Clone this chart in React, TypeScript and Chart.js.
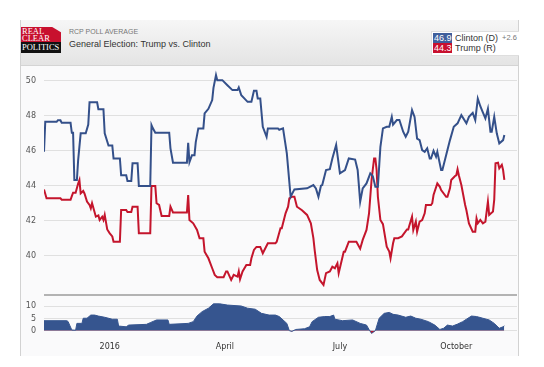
import React, { useEffect, useRef } from "react";
import { Chart, registerables } from "chart.js";
Chart.register(...registerables);

// x values are days since the first poll in the window (≈ 10 Nov 2015)
const tickDays = [52, 143, 234, 326];
const tickLabels = ["2016", "April", "July", "October"];
const mainTicks = [40, 42, 44, 46, 48, 50];
const spreadTicks = [0, 5, 10];

const clintonDays = [0,1,10,11,13,14,21,22,23,24,26,27,29,33,35,36,42,43,47,48,51,54,55,60,61,65,66,69,70,74,75,84,85,86,88,99,100,102,113,114,115,117,119,120,122,126,127,130,133,134,136,137,141,145,149,153,154,156,161,164,166,168,169,171,173,176,177,185,186,189,192,195,198,208,213,215,217,219,220,223,226,228,231,234,238,241,246,248,250,252,255,258,260,262,264,266,268,271,273,275,276,279,281,284,286,288,291,293,295,297,299,301,303,305,306,308,310,311,314,315,317,319,321,324,327,330,334,336,339,341,343,345,347,349,351,353,354,356,358,360,363,364];
const clintonValues = [45.95,47.66,47.66,47.75,47.75,47.6,47.6,47.03,47.03,44.33,44.33,45.47,47.0,47.0,47.5,48.77,48.77,48.38,48.38,47.0,46.3,46.3,45.56,45.56,44.6,44.6,44.27,44.27,45.28,45.28,43.98,43.98,47.47,47.3,47.03,47.03,46.14,45.32,45.32,46.46,45.35,45.75,45.75,46.5,47.28,47.28,48.14,48.4,48.9,49.6,50.33,50.04,50.04,49.75,49.47,49.47,49.62,49.18,48.8,48.8,49.43,49.43,48.99,48.99,47.37,46.8,47.28,47.28,47.2,47.28,45.85,43.37,43.79,43.85,44.04,43.85,43.37,44.0,44.04,44.9,44.95,45.56,46.33,44.71,44.9,45.56,45.5,44.9,43.09,43.85,44.13,44.71,44.55,43.94,43.94,46.23,47.28,47.37,47.37,47.94,47.5,47.76,47.76,47.09,46.8,47.09,48.33,47.94,46.7,46.61,46.04,45.94,46.14,45.56,45.56,46.0,45.66,45.94,44.9,44.9,45.47,46.04,46.61,47.37,47.57,48.04,47.57,47.94,48.17,47.76,48.99,48.55,48.2,47.85,48.4,47.09,47.09,47.94,47.0,46.42,46.61,46.9];

const trumpDays = [0,2,13,14,21,22,23,25,27,28,29,31,32,34,36,37,38,41,43,44,46,47,48,50,52,54,55,60,61,65,66,69,70,74,75,84,85,88,89,91,93,99,100,102,113,114,115,118,121,123,126,127,130,133,135,137,142,144,145,148,150,153,154,155,157,160,163,164,166,168,171,173,177,183,184,187,188,189,191,193,194,196,198,200,204,208,211,213,214,216,218,221,223,226,228,230,232,233,237,238,241,247,250,252,255,257,259,261,262,263,264,266,268,271,273,274,276,277,280,283,284,287,288,289,291,292,294,295,297,299,301,302,306,307,308,311,313,314,318,319,321,322,325,326,327,328,330,333,334,336,339,341,342,343,345,347,349,351,352,355,356,357,359,360,362,363,364];
const trumpValues = [43.79,43.28,43.28,43.2,43.2,43.41,43.6,43.6,44.13,44.33,43.56,43.7,43.56,43.09,42.9,42.71,43.0,42.23,42.3,42.04,42.23,42.04,42.33,41.5,41.28,41.1,40.8,40.8,42.61,42.61,42.5,42.5,42.8,42.8,41.28,41.28,43.98,43.98,43.0,42.9,42.27,42.27,42.8,42.47,42.47,43.47,42.04,41.85,41.47,40.99,40.99,40.23,39.85,39.28,38.9,38.77,38.77,39.1,39.1,38.61,38.9,38.8,39.1,38.65,39.1,39.47,39.47,39.85,40.33,40.5,40.5,40.14,40.71,40.71,40.8,41.57,41.57,41.85,42.42,42.8,43.28,43.37,43.37,42.8,42.6,42.33,41.85,41.0,40.33,39.18,38.61,38.33,39.0,39.1,39.37,39.28,39.56,39.0,40.23,40.23,40.8,40.8,40.4,40.9,41.47,42.42,44.33,45.56,45.56,44.9,43.37,42.04,41.8,40.51,40.23,39.85,40.71,41.0,41.0,41.1,41.2,41.5,41.5,41.75,42.23,41.47,41.95,41.37,41.95,42.04,42.42,42.9,42.9,43.0,43.47,44.13,43.94,43.75,43.37,43.37,43.85,44.33,44.56,44.6,44.94,44.6,44.04,42.9,42.6,41.85,41.37,41.37,42.13,41.85,42.04,41.85,41.95,43.09,42.33,42.52,43.2,45.28,45.32,45.0,45.2,44.9,44.33];

const spreadDays = [0,18,19,22,25,26,30,31,34,37,40,43,48,54,58,59,65,67,81,84,89,98,99,114,118,121,125,130,134,139,145,156,161,167,172,178,183,186,192,194,196,199,206,210,212,217,222,226,229,230,236,244,250,255,257,259,262,265,269,273,276,280,286,290,294,298,304,309,313,316,319,323,327,331,334,338,342,347,352,356,360,363,364];
const spreadValues = [4.1,4.1,3.8,0.3,0.2,3.0,3.0,5.1,5.1,6.4,6.4,6.0,5.5,4.7,4.7,1.9,1.6,2.3,2.6,3.3,4.4,4.4,2.6,3.0,3.7,6.0,7.8,9.2,11.0,11.0,10.5,10.1,9.2,8.8,7.1,6.4,6.4,5.8,3.0,0,-0.3,0.5,0.8,1.6,3.7,5.5,5.8,5.8,6.4,4.7,4.1,4.4,3.0,2.3,0.5,-1.1,0,5.1,7.1,7.5,6.7,6.4,5.5,6.0,5.1,4.7,3.7,2.3,0.5,1.0,2.3,1.9,2.7,3.7,4.7,6.0,5.8,5.1,4.4,3.0,1.0,1.6,2.0];

const BLUE = "#34508a";
const RED = "#c4152c";
const FILL_BLUE = "#36558f";
const TICK_FONT = { family: "DejaVu Sans", size: 8 };
const X_MIN = 0;
const X_MAX = 374;

const pts = (xs: number[], ys: number[]) => xs.map((x, i) => ({ x, y: ys[i] }));

const fixY = (s: any) => {
  s.width = 44;
  s.paddingTop = 0;
  s.paddingBottom = 0;
};

export default function App() {
  const mainRef = useRef<HTMLCanvasElement>(null);
  const spreadRef = useRef<HTMLCanvasElement>(null);

  useEffect(() => {
    const main = new Chart(mainRef.current!, {
      type: "line",
      data: {
        datasets: [
          { label: "Clinton (D)", data: pts(clintonDays, clintonValues), borderColor: BLUE, borderWidth: 2, pointRadius: 0, tension: 0 },
          { label: "Trump (R)", data: pts(trumpDays, trumpValues), borderColor: RED, borderWidth: 2, pointRadius: 0, tension: 0 },
        ],
      },
      options: {
        animation: false,
        responsive: false,
        layout: { autoPadding: false, padding: { left: 0, right: 27, top: 0, bottom: 0 } },
        plugins: { legend: { display: false }, tooltip: { enabled: false } },
        scales: {
          x: { type: "linear", min: X_MIN, max: X_MAX, display: false },
          y: {
            min: 37.75,
            max: 50.85,
            afterBuildTicks: (s: any) => { s.ticks = mainTicks.map((v) => ({ value: v })); },
            afterFit: fixY,
            ticks: { padding: 8, color: "#555", font: TICK_FONT },
            grid: { color: "#e0e0e0", drawTicks: false },
            border: { display: false },
          },
        },
      },
    });

    const spread = new Chart(spreadRef.current!, {
      type: "line",
      data: {
        datasets: [
          {
            label: "Spread",
            data: pts(spreadDays, spreadValues),
            borderColor: FILL_BLUE,
            borderWidth: 1,
            pointRadius: 0,
            tension: 0,
            fill: { target: "origin", above: FILL_BLUE, below: RED },
          } as any,
        ],
      },
      options: {
        animation: false,
        responsive: false,
        layout: { autoPadding: false, padding: { left: 0, right: 27, top: 1, bottom: 0 } },
        plugins: { legend: { display: false }, tooltip: { enabled: false } },
        scales: {
          x: {
            type: "linear",
            min: X_MIN,
            max: X_MAX,
            afterBuildTicks: (s: any) => { s.ticks = tickDays.map((v) => ({ value: v })); },
            afterFit: (s: any) => { s.height = 22; s.paddingLeft = 0; s.paddingRight = 0; },
            ticks: {
              autoSkip: false,
              maxRotation: 0,
              padding: 8,
              color: "#333",
              font: TICK_FONT,
              callback: (v: any) => tickLabels[tickDays.indexOf(Number(v))],
            },
            grid: { display: false, drawTicks: false },
            border: { display: false },
          },
          y: {
            min: -1.35,
            max: 13.8,
            afterBuildTicks: (s: any) => { s.ticks = spreadTicks.map((v) => ({ value: v })); },
            afterFit: fixY,
            ticks: { padding: 8, color: "#555", font: TICK_FONT },
            grid: { color: "#e0e0e0", drawTicks: false },
            border: { display: false },
          },
        },
      },
    });

    return () => {
      main.destroy();
      spread.destroy();
    };
  }, []);

  const abs = (o: React.CSSProperties): React.CSSProperties => ({ position: "absolute", ...o });

  return (
    <div style={abs({ left: 0, top: 0, width: 544, height: 367, background: "#fff", overflow: "hidden", fontFamily: "'Liberation Sans', Arial, sans-serif" })}>
      {/* frame */}
      <div style={abs({ left: 20, top: 20, width: 497, height: 336, background: "#fafafb", borderLeft: "1px solid #d2d2d2", borderRight: "1px solid #d2d2d2" })} />
      {/* header */}
      <div style={abs({ left: 21, top: 20, width: 497, height: 45, background: "linear-gradient(#f6f6f6, #e4e4e4)", borderBottom: "1px solid #d4d4d4" })} />
      {/* logo */}
      <div style={abs({ left: 21, top: 27, width: 40, height: 15, background: "#c8102e", clipPath: "polygon(0 0, 78% 0, 100% 35%, 100% 100%, 0 100%)" })} />
      <div style={abs({ left: 21, top: 42, width: 40, height: 11, background: "#111" })} />
      <div style={abs({ left: 22, top: 28, color: "#fff", fontFamily: "'Liberation Serif', serif", fontSize: 8.5, lineHeight: "7px" })}>REAL</div>
      <div style={abs({ left: 22, top: 35, color: "#fff", fontFamily: "'Liberation Serif', serif", fontSize: 8.5, lineHeight: "7px" })}>CLEAR</div>
      <div style={abs({ left: 22, top: 43, color: "#fff", fontFamily: "'Liberation Serif', serif", fontSize: 8.5, lineHeight: "9px" })}>POLITICS</div>
      {/* titles */}
      <div style={abs({ left: 69, top: 28, color: "#777", fontSize: 7, lineHeight: "7px", whiteSpace: "nowrap" })}>RCP POLL AVERAGE</div>
      <div style={abs({ left: 69, top: 39.5, color: "#333", fontSize: 9, lineHeight: "9px", whiteSpace: "nowrap" })}>General Election: Trump vs. Clinton</div>
      {/* legend */}
      <div style={abs({ left: 431, top: 31, width: 87, height: 23, background: "#fff", border: "1px solid #dedede", borderRight: "none" })} />
      <div style={abs({ left: 433, top: 32.5, width: 19, height: 10, background: "#3f5f9c", overflow: "hidden", color: "#fff", fontSize: 9, lineHeight: "10px", whiteSpace: "nowrap", paddingLeft: 1, boxSizing: "border-box" })}>46.9</div>
      <div style={abs({ left: 433, top: 42.5, width: 19, height: 10, background: "#c8102e", overflow: "hidden", color: "#fff", fontSize: 9, lineHeight: "10px", whiteSpace: "nowrap", paddingLeft: 1, boxSizing: "border-box" })}>44.3</div>
      <div style={abs({ left: 455, top: 32.5, color: "#333", fontSize: 9, lineHeight: "10px", whiteSpace: "nowrap" })}>Clinton (D)</div>
      <div style={abs({ left: 502, top: 33, color: "#777", fontSize: 7.5, lineHeight: "10px", whiteSpace: "nowrap" })}>+2.6</div>
      <div style={abs({ left: 455, top: 42.5, color: "#333", fontSize: 9, lineHeight: "10px", whiteSpace: "nowrap" })}>Trump (R)</div>
      {/* charts */}
      <canvas ref={mainRef} width={544} height={229} style={abs({ left: 0, top: 66, width: 544, height: 229 })} />
      <div style={abs({ left: 44, top: 294, width: 473, height: 2, background: "#b3b3b3" })} />
      <canvas ref={spreadRef} width={544} height={60} style={abs({ left: 0, top: 296, width: 544, height: 60 })} />
    </div>
  );
}
